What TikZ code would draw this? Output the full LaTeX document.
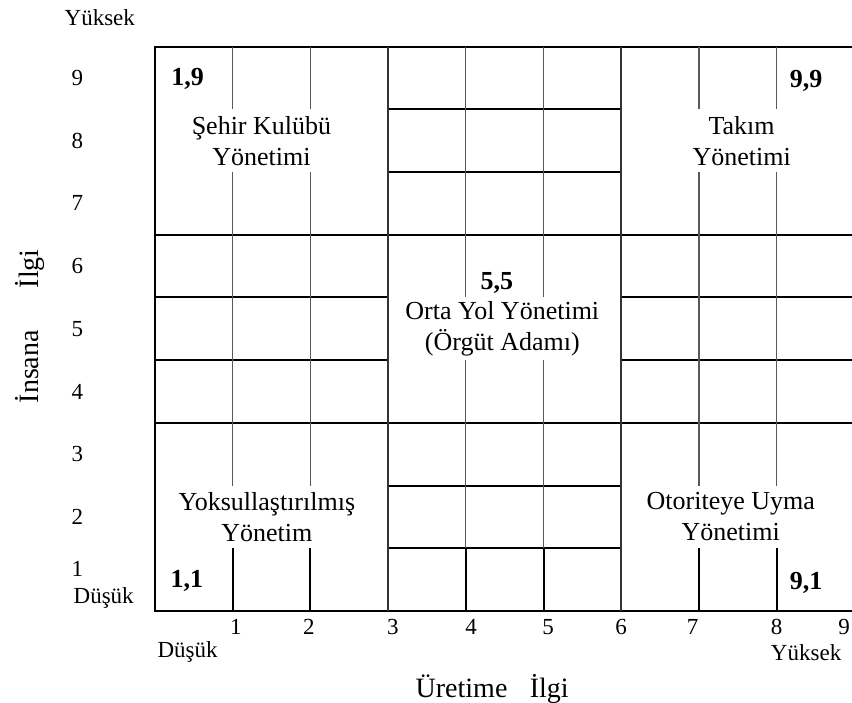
\documentclass[tikz,border=0pt]{standalone}
\usepackage{fontspec}
\setmainfont{Liberation Serif}
\usetikzlibrary{positioning}

\begin{document}
\begin{tikzpicture}[x=77.7pt,y=62.7pt,font=\fontsize{23}{27}\selectfont,
    hline/.style={line width=2pt,black,line cap=rect},
    vline/.style={line width=1.3pt,black!65},
    vbold/.style={line width=2pt,black},
    lab/.style={font=\fontsize{26}{31}\selectfont,align=center},
    corner/.style={font=\fontsize{26}{31}\selectfont\bfseries},
    title/.style={font=\fontsize{28}{33}\selectfont}]
  \useasboundingbox (-155pt,-92pt) rectangle (697pt,611pt);
  \def\W{8.97}
  % horizontal lines
  \foreach \y in {0,3,6,9} \draw[hline] (0,\y) -- (\W,\y);
  \foreach \y in {4,5} {
    \draw[hline] (0,\y) -- (3,\y);
    \draw[hline] (6,\y) -- (\W,\y);
  }
  \foreach \y in {1,2,7,8} \draw[hline] (3,\y) -- (6,\y);
  % vertical lines, with gaps for the labels
  \foreach \x in {1,2,7,8} {
    \draw[vline] (\x,9) -- (\x,8);
    \draw[vline] (\x,7) -- (\x,2);
    \draw[vbold] (\x,1) -- (\x,0);
  }
  \foreach \x in {4,5} {
    \draw[vline] (\x,9) -- (\x,5);
    \draw[vline] (\x,4) -- (\x,1);
    \draw[vbold] (\x,1) -- (\x,0);
  }
  \draw[vbold] (0,0) -- (0,9);
  \foreach \x in {3,6} \draw[line width=1.6pt,black!80] (\x,0) -- (\x,9);
  % axis marks
  \node (yhigh) at (-0.71,9.47) {Yüksek};
  \foreach \k in {2,...,9} \node (y\k) at (-1.0,\k-0.5) {\k};
  \node (y1) at (-1.0,0.67) {1};
  \node (ylow) at (-0.66,0.2) {Düşük};
  \foreach \k/\p in {1/1.04,2/1.98,3/3.06,4/4.07,5/5.06,6/6.0,7/6.92,8/8.0,9/8.87}
    \node (x\k) at (\p,-0.25) {\k};
  \node (xlow) at (0.42,-0.66) {Düşük};
  \node (xhigh) at (8.38,-0.66) {Yüksek};
  \node[title] (xtitle) at (4.34,-1.24) {Üretime\hspace{0.8em}İlgi};
  \node[title,rotate=90] (ytitle) at (-1.61,4.54) {İnsana\hspace{1.5em}İlgi};
  % styles of management
  \node[lab] (club) at (1.37,7.5) {Şehir Kulübü\\Yönetimi};
  \node[lab] (team) at (7.55,7.5) {Takım\\Yönetimi};
  \node[lab] (middle) at (4.47,4.5) {Orta Yol Yönetimi\\(Örgüt Adamı)};
  \node[lab] (poor) at (1.44,1.5) {Yoksullaştırılmış\\Yönetim};
  \node[lab] (task) at (7.41,1.5) {Otoriteye Uyma\\Yönetimi};
  % corner values
  \node[corner] (c19) at (0.42,8.48) {1,9};
  \node[corner] (c99) at (8.38,8.46) {9,9};
  \node[corner] (c55) at (4.4,5.23) {5,5};
  \node[corner] (c11) at (0.41,0.48) {1,1};
  \node[corner] (c91) at (8.38,0.45) {9,1};
\end{tikzpicture}
\end{document}
